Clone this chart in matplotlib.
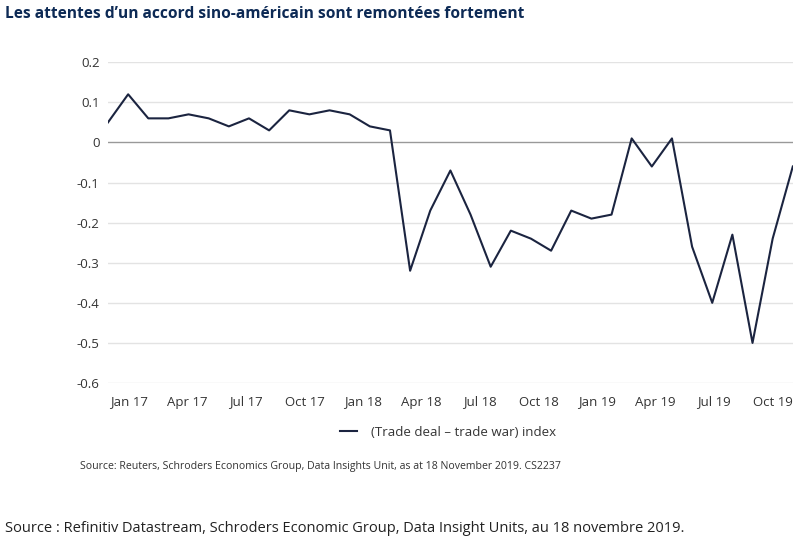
import matplotlib
matplotlib.use("Agg")
import matplotlib.pyplot as plt
import numpy as np

plt.rcParams['font.family'] = ['Open Sans', 'DejaVu Sans']

# index values, roughly monthly from Dec 2016
index_values = [0.05, 0.12, 0.06, 0.06, 0.07, 0.06, 0.04, 0.06, 0.03, 0.08,
                0.07, 0.08, 0.07, 0.04, 0.03, -0.32, -0.17, -0.07, -0.18, -0.31,
                -0.22, -0.24, -0.27, -0.17, -0.19, -0.18, 0.01, -0.06, 0.01, -0.26,
                -0.40, -0.23, -0.50, -0.24, -0.06]
tick_labels = ['Jan 17', 'Apr 17', 'Jul 17', 'Oct 17', 'Jan 18', 'Apr 18',
               'Jul 18', 'Oct 18', 'Jan 19', 'Apr 19', 'Jul 19', 'Oct 19']
y_ticks = [0.2, 0.1, 0, -0.1, -0.2, -0.3, -0.4, -0.5, -0.6]
y_labels = ['0.2', '0.1', '0', '-0.1', '-0.2', '-0.3', '-0.4', '-0.5', '-0.6']

navy = '#1b2440'
title_col = '#0d2a55'

fig = plt.figure(figsize=(8, 5.41), dpi=100)
ax = fig.add_axes([0.135, 0.292, 0.856, 0.593])

x = np.arange(len(index_values))
for yv in y_ticks:
    ax.axhline(yv, color='#999999' if yv == 0 else '#e3e3e3', lw=1.0, zorder=1)
ax.plot(x, index_values, color=navy, lw=1.5, zorder=3,
        label='(Trade deal \u2013 trade war) index')

ax.set_xlim(0, len(index_values) - 1)
ax.set_ylim(-0.6, 0.2)
ax.set_yticks(y_ticks)
ax.set_yticklabels(y_labels)
ax.set_xticks(np.linspace(1.04, 33.0, len(tick_labels)))
ax.set_xticklabels(tick_labels)
ax.tick_params(axis='both', length=0, labelsize=9.5, colors='#333333')
ax.tick_params(axis='x', pad=9)
ax.tick_params(axis='y', pad=6)
for s in ax.spines.values():
    s.set_visible(False)

ax.legend(loc='center', bbox_to_anchor=(448 / 800, 1 - 432 / 541),
          bbox_transform=fig.transFigure, frameon=False, fontsize=9.5,
          handlelength=1.3, handletextpad=1.0, labelcolor='#333333')

fig.text(5 / 800, 1 - 14 / 541,
         'Les attentes d\u2019un accord sino-am\u00e9ricain sont remont\u00e9es fortement',
         fontsize=11.2, fontweight='bold', color=title_col, va='center', ha='left')
fig.text(80 / 800, 1 - 467 / 541,
         'Source: Reuters, Schroders Economics Group, Data Insights Unit, as at 18 November 2019. CS2237',
         fontsize=7.6, color='#333333', va='center', ha='left')
fig.text(5 / 800, 1 - 528 / 541,
         'Source : Refinitiv Datastream, Schroders Economic Group, Data Insight Units, au 18 novembre 2019.',
         fontsize=10.5, color='#222222', va='center', ha='left')

fig.savefig('out.png', dpi=100)
